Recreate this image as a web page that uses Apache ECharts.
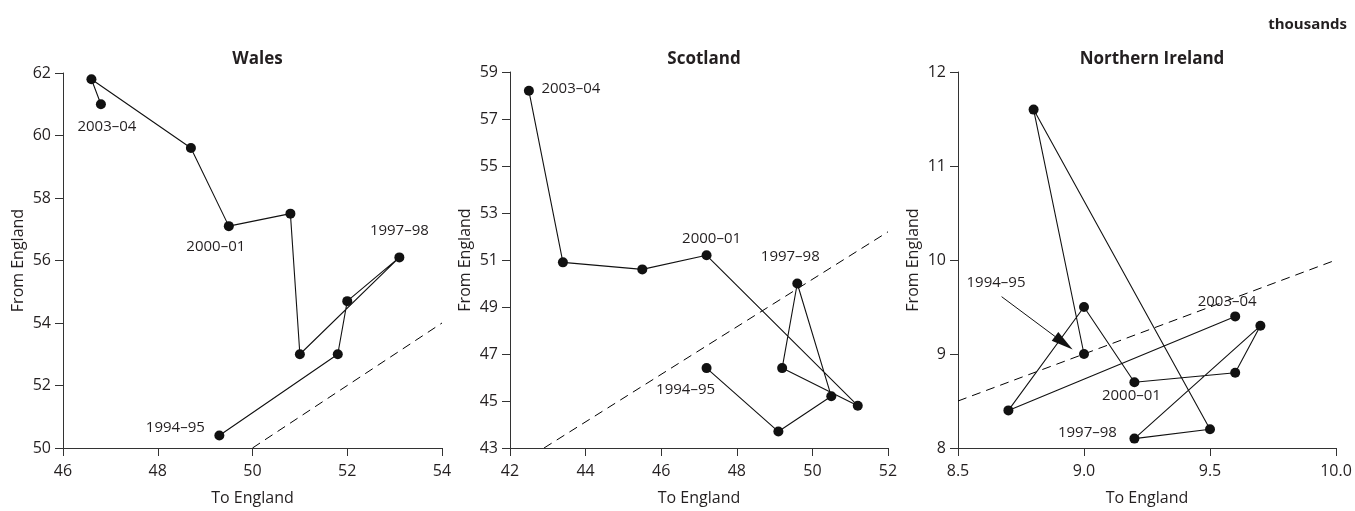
<!DOCTYPE html>
<html>
<head>
<meta charset="utf-8">
<script src="https://cdn.jsdelivr.net/npm/echarts@6/dist/echarts.min.js"></script>
<style>
html,body{margin:0;padding:0;background:#fff;}
#chart{width:1355px;height:511px;}
</style>
</head>
<body>
<div id="chart"></div>
<script>
// ---------- data ----------
const years = ['1994–95','1995–96','1996–97','1997–98','1998–99','1999–00','2000–01','2001–02','2002–03','2003–04'];
const labelledYears = ['1994–95','1997–98','2000–01','2003–04'];

const walesTo   = [49.3, 51.8, 52.0, 53.1, 51.0, 50.8, 49.5, 48.7, 46.6, 46.8];
const walesFrom = [50.4, 53.0, 54.7, 56.1, 53.0, 57.5, 57.1, 59.6, 61.8, 61.0];
const walesDiag = [[50, 50], [54, 54]];

const scotTo   = [47.2, 49.1, 50.5, 49.6, 49.2, 51.2, 47.2, 45.5, 43.4, 42.5];
const scotFrom = [46.4, 43.7, 45.2, 50.0, 46.4, 44.8, 51.2, 50.6, 50.9, 58.2];
const scotDiag = [[42.9, 43], [52, 52.2]];

const niTo   = [9.0, 8.8, 9.5, 9.2, 9.7, 9.6, 9.2, 9.0, 8.7, 9.6];
const niFrom = [9.0, 11.6, 8.2, 8.1, 9.3, 8.8, 8.7, 9.5, 8.4, 9.4];
const niDiag = [[8.5, 8.5], [10, 10]];
// annotation arrow (start -> tip) in data units
const niArrow = [[8.673, 9.61], [8.955, 9.047]];

const panelTitles = ['Wales', 'Scotland', 'Northern Ireland'];
const xTitle = 'To England';
const yTitle = 'From England';
const unitText = 'thousands';

// ---------- styling / layout ----------
const FONT = '"Open Sans", "Noto Sans", sans-serif';
const TXT = '#231f20';
const AX = '#333333';

// label offsets (pixels) per panel keyed by year
const labelOffsets = [
  {'2003–04':[6,22], '2000–01':[-13,21], '1997–98':[0,-27], '1994–95':[-44,-8]},
  {'2003–04':[42,-2], '2000–01':[5,-17], '1997–98':[-7,-27], '1994–95':[-21,22]},
  {'2003–04':[-8,-15], '2000–01':[-3,14], '1997–98':[-47,-6], '1994–95':[-88,-71]}
];

function buildData(xs, ys, offsets) {
  return xs.map((x, i) => {
    const yr = years[i];
    const item = { value: [x, ys[i]] };
    if (labelledYears.indexOf(yr) >= 0) {
      item.label = {
        show: true, position: 'inside', formatter: yr,
        offset: offsets[yr], color: TXT, fontSize: 15, fontFamily: FONT
      };
    }
    return item;
  });
}

const grids = [
  {left: 63, top: 73, width: 379, height: 379},
  {left: 510, top: 72, width: 378, height: 378},
  {left: 958, top: 72, width: 378, height: 378}
];

const xDefs = [
  {min: 46, max: 54, interval: 2, fmt: v => String(v)},
  {min: 42, max: 52, interval: 2, fmt: v => String(v)},
  {min: 8.5, max: 10, interval: 0.5, fmt: v => v.toFixed(1)}
];
const yDefs = [
  {min: 50, max: 62, interval: 2},
  {min: 43, max: 59, interval: 2},
  {min: 8, max: 12, interval: 1}
];

function xAxis(i) {
  const d = xDefs[i];
  return {
    type: 'value', gridIndex: i, min: d.min, max: d.max, interval: d.interval,
    name: xTitle, nameLocation: 'middle', nameGap: 42,
    nameTextStyle: {color: TXT, fontSize: 16, fontFamily: FONT},
    axisLine: {show: true, onZero: false, lineStyle: {color: AX, width: 1}},
    axisTick: {show: true, inside: false, length: 8, lineStyle: {color: AX}},
    axisLabel: {color: TXT, fontSize: 16, fontFamily: FONT, margin: 15, formatter: d.fmt},
    splitLine: {show: false}
  };
}
function yAxis(i) {
  const d = yDefs[i];
  return {
    type: 'value', gridIndex: i, min: d.min, max: d.max, interval: d.interval,
    name: yTitle, nameLocation: 'middle', nameGap: 37,
    nameTextStyle: {color: TXT, fontSize: 16, fontFamily: FONT},
    axisLine: {show: true, onZero: false, lineStyle: {color: AX, width: 1}},
    axisTick: {show: true, inside: false, length: 8, lineStyle: {color: AX}},
    axisLabel: {color: TXT, fontSize: 16, fontFamily: FONT, margin: 12},
    splitLine: {show: false}
  };
}

const panels = [
  {to: walesTo, from: walesFrom, diag: walesDiag},
  {to: scotTo, from: scotFrom, diag: scotDiag},
  {to: niTo, from: niFrom, diag: niDiag}
];

const series = [];
panels.forEach((p, i) => {
  series.push({
    type: 'line', xAxisIndex: i, yAxisIndex: i, silent: true,
    data: p.diag, symbol: 'none',
    lineStyle: {color: '#000', width: 1, type: [9, 6]}
  });
  series.push({
    type: 'line', xAxisIndex: i, yAxisIndex: i, silent: true,
    data: buildData(p.to, p.from, labelOffsets[i]),
    symbol: 'circle', symbolSize: 10,
    itemStyle: {color: '#111'},
    lineStyle: {color: '#111', width: 1.1},
    z: 3
  });
});

// annotation arrow in the Northern Ireland panel
series.push({
  type: 'custom', xAxisIndex: 2, yAxisIndex: 2, silent: true, z: 4,
  data: [[niArrow[0][0], niArrow[0][1], niArrow[1][0], niArrow[1][1]]],
  renderItem: function (params, api) {
    const a = api.coord([api.value(0), api.value(1)]);
    const b = api.coord([api.value(2), api.value(3)]);
    const dx = b[0] - a[0], dy = b[1] - a[1];
    const len = Math.sqrt(dx * dx + dy * dy);
    const ux = dx / len, uy = dy / len;
    const headLen = 22, halfW = 5.5;
    const bx = b[0] - ux * headLen, by = b[1] - uy * headLen;
    const nx = -uy, ny = ux;
    return {
      type: 'group',
      children: [
        {type: 'line', shape: {x1: a[0], y1: a[1], x2: bx, y2: by},
         style: {stroke: '#111', lineWidth: 1}},
        {type: 'polygon',
         shape: {points: [[b[0], b[1]], [bx + nx * halfW, by + ny * halfW], [bx - nx * halfW, by - ny * halfW]]},
         style: {fill: '#111'}}
      ]
    };
  }
});

const titles = panelTitles.map((t, i) => ({
  text: t, left: grids[i].left + grids[i].width / 2, top: 46, textAlign: 'center',
  textStyle: {color: TXT, fontSize: 17, fontWeight: 'bold', fontFamily: FONT}
}));
titles.push({
  text: unitText, right: 3, top: 12,
  textStyle: {color: TXT, fontSize: 15, fontWeight: 'bold', fontFamily: FONT}
});

const chart = echarts.init(document.getElementById('chart'), null, {renderer: 'canvas'});
chart.setOption({
  animation: false,
  backgroundColor: '#fff',
  title: titles,
  grid: grids,
  xAxis: [0, 1, 2].map(xAxis),
  yAxis: [0, 1, 2].map(yAxis),
  series: series
});
</script>
</body>
</html>
